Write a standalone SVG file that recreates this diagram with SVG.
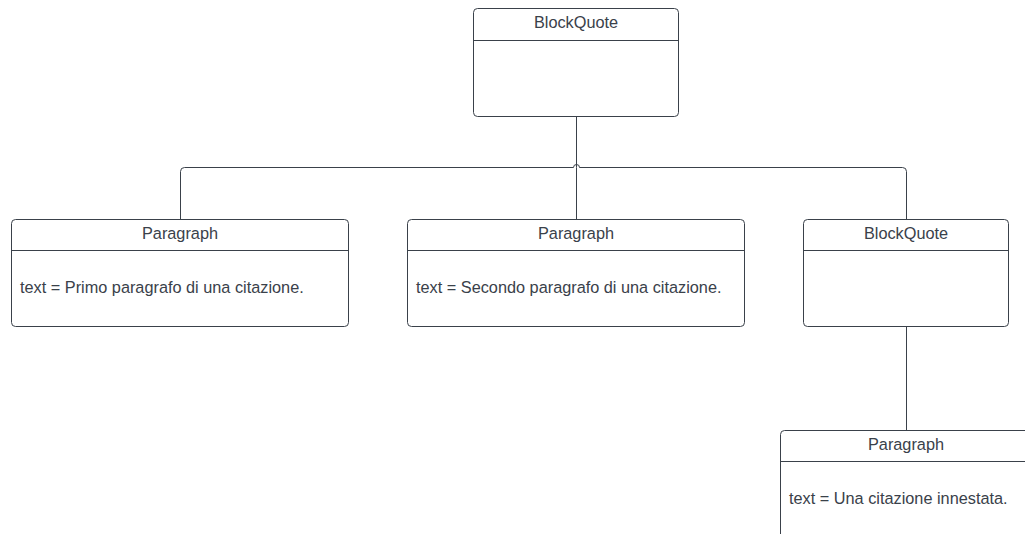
<svg xmlns="http://www.w3.org/2000/svg" width="1025" height="534" viewBox="0 0 1025 534">
<style>
.box{fill:#ffffff;stroke:#3a414a;stroke-width:1}
.sep{stroke:#3a414a;stroke-width:1}
.t{font-family:"Liberation Sans",Arial,sans-serif;font-size:16.3px;fill:#3a414a}
.c{text-anchor:middle}
.conn{fill:none;stroke:#3a414a;stroke-width:1}
</style>
<rect width="1025" height="534" fill="#ffffff"/>
<g id="connectors">
<path class="conn" d="M576.5 116.5 V167.5"/>
<path class="conn" d="M180.5 219 V171.5 Q180.5 167.5 184.5 167.5 H573.5 A3 3 0 0 1 579.5 167.5 H902.5 Q906.5 167.5 906.5 171.5 V219"/>
<path class="conn" d="M576.5 167.5 V219"/>
<path class="conn" d="M906.5 327 V430"/>
</g>
<g id="blockquote-root">
<rect class="box" x="473.5" y="8.5" width="205" height="108" rx="4"/>
<line class="sep" x1="473.5" y1="40.5" x2="678.5" y2="40.5"/>
<text class="t c" x="576" y="28">BlockQuote</text>
</g>
<g id="paragraph-1">
<rect class="box" x="11.5" y="219.5" width="337" height="107" rx="4"/>
<line class="sep" x1="11.5" y1="250.5" x2="348.5" y2="250.5"/>
<text class="t c" x="180" y="238.5">Paragraph</text>
<text class="t" x="20" y="292.5">text = Primo paragrafo di una citazione.</text>
</g>
<g id="paragraph-2">
<rect class="box" x="407.5" y="219.5" width="337" height="107" rx="4"/>
<line class="sep" x1="407.5" y1="250.5" x2="744.5" y2="250.5"/>
<text class="t c" x="576" y="238.5">Paragraph</text>
<text class="t" x="416" y="292.5">text = Secondo paragrafo di una citazione.</text>
</g>
<g id="blockquote-nested">
<rect class="box" x="803.5" y="219.5" width="205" height="107" rx="4"/>
<line class="sep" x1="803.5" y1="250.5" x2="1008.5" y2="250.5"/>
<text class="t c" x="906" y="238.5">BlockQuote</text>
</g>
<g id="paragraph-3">
<rect class="box" x="780.5" y="430.5" width="337" height="130" rx="4"/>
<line class="sep" x1="780.5" y1="461.5" x2="1117.5" y2="461.5"/>
<text class="t c" x="906" y="449.5">Paragraph</text>
<text class="t" x="789" y="503.5">text = Una citazione innestata.</text>
</g>
</svg>
